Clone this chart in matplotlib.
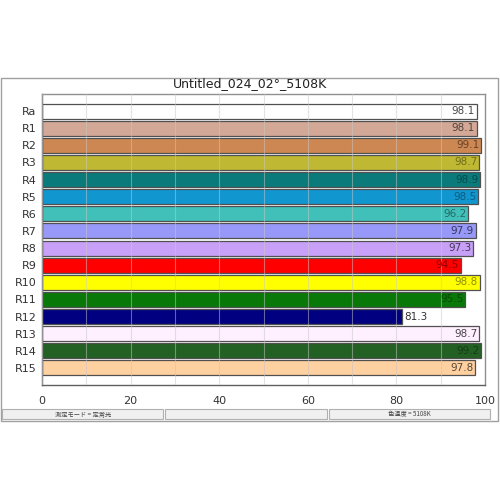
import matplotlib
matplotlib.use("Agg")
import matplotlib.pyplot as plt
import matplotlib.colors as mcolors
import colorsys
from matplotlib.patches import Rectangle

categories = ["Ra", "R1", "R2", "R3", "R4", "R5", "R6", "R7", "R8", "R9",
              "R10", "R11", "R12", "R13", "R14", "R15"]
values = [98.1, 98.1, 99.1, 98.7, 98.9, 98.5, 96.2, 97.9, 97.3, 94.5,
          98.8, 95.5, 81.3, 98.7, 99.2, 97.8]
colors = ["#ffffff", "#d4a896", "#cd8752", "#bfb833", "#0a7a7a", "#1196d0",
          "#40c0b8", "#9898f8", "#c8a0f8", "#ff0000", "#ffff00", "#087808",
          "#000080", "#fff0ff", "#236023", "#ffd0a0"]
title = "Untitled_024_02°_5108K"
status_left = "測定モード = 定常光"
status_right = "色温度 = 5108K"
xticks = [0, 20, 40, 60, 80, 100]

plt.rcParams['font.family'] = ['DejaVu Sans']
fig = plt.figure(figsize=(5, 5), dpi=100)
W, H = 500, 500

def fx(px):
    return px / W

def fy(py):
    return 1 - py / H

# outer frame
fig.patches.append(Rectangle((fx(1), fy(421)), fx(497), (420 - 77) / H,
                             transform=fig.transFigure, fill=False,
                             edgecolor="#a0a0a0", lw=1.0))

ax = fig.add_axes([fx(42), fy(385), fx(485) - fx(42), (385 - 94) / H])
ypos = list(range(len(categories)))
ax.barh(ypos, values, height=0.88, color=colors, edgecolor="#505050",
        linewidth=0.9, zorder=2)
ax.set_ylim(len(categories), -1)
ax.set_xlim(0, 100)
ax.set_yticks(ypos)
ax.set_yticklabels(categories, fontsize=8, color="#333333")
ax.set_xticks(xticks)
ax.set_xticklabels([str(t) for t in xticks], fontsize=8, color="#333333")
ax.set_xticks(range(10, 100, 20), minor=True)
ax.tick_params(axis="both", length=0, pad=4)
ax.tick_params(axis="x", pad=8)
ax.tick_params(axis="x", which="minor", length=0)
ax.grid(axis="x", which="both", color="#c8c8c8", lw=0.8, alpha=0.5, zorder=3)
ax.set_axisbelow(False)
for s in ["top", "right"]:
    ax.spines[s].set_color("#909090")
for s in ["left", "bottom"]:
    ax.spines[s].set_color("#606060")
for s in ax.spines.values():
    s.set_linewidth(1.0)


def label_color(c):
    r, g, b = mcolors.to_rgb(c)
    _, l, _ = colorsys.rgb_to_hls(r, g, b)
    k = min(0.62, 0.28 / max(l, 1e-6))
    return (r * k, g * k, b * k)


for y, v, c in zip(ypos, values, colors):
    if v < 90:
        ax.text(v + 0.4, y, f"{v:.1f}", ha="left", va="center",
                fontsize=7.5, color="#333333", zorder=4)
    else:
        ax.text(v - 0.4, y, f"{v:.1f}", ha="right", va="center",
                fontsize=7.5, color=label_color(c), zorder=4)

fig.text(0.5, fy(84), title, ha="center", va="center", fontsize=9,
         color="#202020")

# status bar
for x0, x1 in [(2, 163), (165, 327), (329, 490)]:
    fig.patches.append(Rectangle((fx(x0), fy(419)), fx(x1 - x0), 10 / H,
                                 transform=fig.transFigure,
                                 facecolor="#f0f0f0", edgecolor="#b0b0b0",
                                 lw=0.8))
fig.text(fx(83), fy(414), status_left, ha="center", va="center", fontsize=4.5,
         family=["Noto Sans CJK JP", "DejaVu Sans"], color="#404040")
fig.text(fx(409), fy(414), status_right, ha="center", va="center",
         fontsize=4.5, family=["Noto Sans CJK JP", "DejaVu Sans"],
         color="#404040")

fig.savefig("out.png", dpi=100)
